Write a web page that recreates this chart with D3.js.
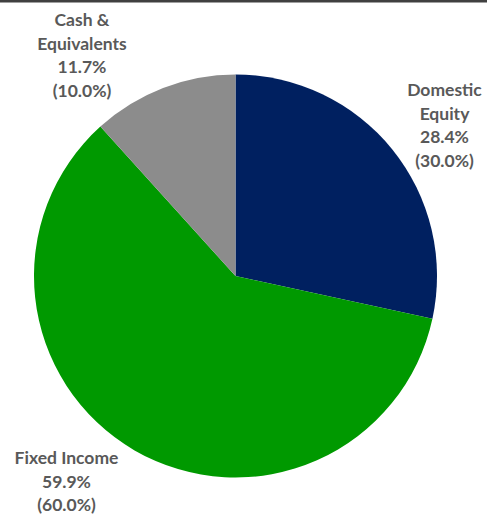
<!DOCTYPE html>
<html>
<head>
<meta charset="utf-8">
<script src="https://cdn.jsdelivr.net/npm/d3@7"></script>
<style>
  html, body { margin: 0; padding: 0; background: #fff; }
  svg { display: block; }
</style>
</head>
<body>
<script>
// Asset allocation: actual share and (target share)
const categories = ["Domestic Equity", "Fixed Income", "Cash & Equivalents"];
const actualPct = [28.4, 59.9, 11.7];
const targetPct = [30.0, 60.0, 10.0];
const labelLines = [["Domestic", "Equity"], ["Fixed Income"], ["Cash &", "Equivalents"]];
const colors = ["#002060", "#009900", "#8c8c8c"];

const W = 487, H = 514;
const cx = 235.5, cy = 276, R = 201.5;

const svg = d3.select("body").append("svg").attr("width", W).attr("height", H);

// top rule
svg.append("rect").attr("x", 0).attr("y", 0).attr("width", W).attr("height", 2.5).attr("fill", "#404040");

const data = categories.map((c, i) => ({ name: c, value: actualPct[i], target: targetPct[i], lines: labelLines[i], color: colors[i] }));

const pie = d3.pie().value(d => d.value).sort(null);
const arc = d3.arc().innerRadius(0).outerRadius(R);

const g = svg.append("g").attr("transform", `translate(${cx},${cy})`);
g.selectAll("path").data(pie(data)).join("path")
  .attr("d", arc)
  .attr("fill", d => d.data.color);

// label anchor points (centre x, first baseline y)
const labelPos = [
  { x: 444.5, y: 96 },
  { x: 66.5, y: 464 },
  { x: 82, y: 26 }
];
const lineH = 23.5;

data.forEach((d, i) => {
  const lines = d.lines.concat([d3.format(".1f")(d.value) + "%", "(" + d3.format(".1f")(d.target) + "%)"]);
  const t = svg.append("text")
    .attr("x", labelPos[i].x)
    .attr("y", labelPos[i].y)
    .attr("text-anchor", "middle")
    .attr("font-family", "Lato, 'Open Sans', sans-serif")
    .attr("font-weight", 700)
    .attr("font-size", 17.5)
    .attr("fill", "#595959");
  lines.forEach((l, k) => {
    t.append("tspan").attr("x", labelPos[i].x).attr("dy", k === 0 ? 0 : lineH).text(l);
  });
});
</script>
</body>
</html>
